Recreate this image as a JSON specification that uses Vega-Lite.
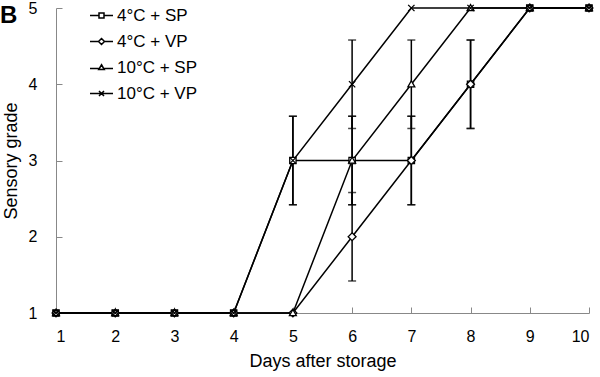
{
  "$schema": "https://vega.github.io/schema/vega-lite/v6.json",
  "width": 533,
  "height": 305,
  "autosize": "none",
  "padding": {"left": 56, "top": 8, "right": 11, "bottom": 64},
  "title": {"text": "B", "anchor": "start", "frame": "group", "fontSize": 24, "fontWeight": "bold", "font": "Liberation Sans", "color": "black", "dx": -56, "dy": 28, "baseline": "top", "offset": 0},
  "config": {
    "view": {"stroke": null},
    "font": "Liberation Sans",
    "axis": {"grid": false, "domainColor": "#888", "tickColor": "#888", "labelFont": "Liberation Sans", "titleFont": "Liberation Sans", "labelColor": "black", "titleColor": "black", "labelFontSize": 16, "titleFontSize": 18, "titleFontWeight": "normal"}
  },
  "data": {"values": [
    {"series": "4°C + SP", "day": 1, "grade": 1},
    {"series": "4°C + SP", "day": 2, "grade": 1},
    {"series": "4°C + SP", "day": 3, "grade": 1},
    {"series": "4°C + SP", "day": 4, "grade": 1},
    {"series": "4°C + SP", "day": 5, "grade": 3, "lo": 2.42, "hi": 3.58},
    {"series": "4°C + SP", "day": 6, "grade": 3, "lo": 2.42, "hi": 3.58},
    {"series": "4°C + SP", "day": 7, "grade": 3, "lo": 2.42, "hi": 3.58},
    {"series": "4°C + SP", "day": 8, "grade": 4, "lo": 3.42, "hi": 4.58},
    {"series": "4°C + SP", "day": 9, "grade": 5},
    {"series": "4°C + SP", "day": 10, "grade": 5},
    {"series": "4°C + VP", "day": 1, "grade": 1},
    {"series": "4°C + VP", "day": 2, "grade": 1},
    {"series": "4°C + VP", "day": 3, "grade": 1},
    {"series": "4°C + VP", "day": 4, "grade": 1},
    {"series": "4°C + VP", "day": 5, "grade": 1},
    {"series": "4°C + VP", "day": 6, "grade": 2, "lo": 1.42, "hi": 2.58},
    {"series": "4°C + VP", "day": 7, "grade": 3, "lo": 2.42, "hi": 3.58},
    {"series": "4°C + VP", "day": 8, "grade": 4, "lo": 3.42, "hi": 4.58},
    {"series": "4°C + VP", "day": 9, "grade": 5},
    {"series": "4°C + VP", "day": 10, "grade": 5},
    {"series": "10°C + SP", "day": 1, "grade": 1},
    {"series": "10°C + SP", "day": 2, "grade": 1},
    {"series": "10°C + SP", "day": 3, "grade": 1},
    {"series": "10°C + SP", "day": 4, "grade": 1},
    {"series": "10°C + SP", "day": 5, "grade": 1},
    {"series": "10°C + SP", "day": 6, "grade": 3, "lo": 2.42, "hi": 3.58},
    {"series": "10°C + SP", "day": 7, "grade": 4, "lo": 3.42, "hi": 4.58},
    {"series": "10°C + SP", "day": 8, "grade": 5},
    {"series": "10°C + SP", "day": 9, "grade": 5},
    {"series": "10°C + SP", "day": 10, "grade": 5},
    {"series": "10°C + VP", "day": 1, "grade": 1},
    {"series": "10°C + VP", "day": 2, "grade": 1},
    {"series": "10°C + VP", "day": 3, "grade": 1},
    {"series": "10°C + VP", "day": 4, "grade": 1},
    {"series": "10°C + VP", "day": 5, "grade": 3, "lo": 2.42, "hi": 3.58},
    {"series": "10°C + VP", "day": 6, "grade": 4, "lo": 3.42, "hi": 4.58},
    {"series": "10°C + VP", "day": 7, "grade": 5},
    {"series": "10°C + VP", "day": 8, "grade": 5},
    {"series": "10°C + VP", "day": 9, "grade": 5},
    {"series": "10°C + VP", "day": 10, "grade": 5}
  ]},
  "encoding": {
    "x": {"field": "day", "type": "quantitative", "scale": {"domain": [1, 10], "nice": false, "zero": false},
      "axis": {"title": "Days after storage", "values": [1,2,3,4,5,6,7,8,9,10], "tickSize": -6, "labelPadding": 21, "titlePadding": 8}},
    "y": {"field": "grade", "type": "quantitative", "scale": {"domain": [1, 5], "nice": false, "zero": false},
      "axis": {"title": "Sensory grade", "values": [1,2,3,4,5], "tickSize": -6, "labelPadding": 25, "titlePadding": 8}}
  },
  "resolve": {"scale": {"shape": "independent"}, "legend": {"shape": "independent"}},
  "layer": [
    {
      "transform": [{"filter": "datum.lo != null"}],
      "mark": {"type": "rule", "color": "black", "strokeWidth": 1.5},
      "encoding": {"y": {"field": "lo", "type": "quantitative"}, "y2": {"field": "hi"}}
    },
    {
      "transform": [{"filter": "datum.lo != null"}],
      "mark": {"type": "tick", "orient": "horizontal", "color": "black", "size": 8, "thickness": 1.5},
      "encoding": {"y": {"field": "lo", "type": "quantitative"}}
    },
    {
      "transform": [{"filter": "datum.lo != null"}],
      "mark": {"type": "tick", "orient": "horizontal", "color": "black", "size": 8, "thickness": 1.5},
      "encoding": {"y": {"field": "hi", "type": "quantitative"}}
    },
    {
      "mark": {"type": "line", "color": "black", "strokeWidth": 1.5},
      "encoding": {"detail": {"field": "series"}}
    },
    {
      "mark": {"type": "point", "filled": false, "fill": "white", "fillOpacity": 1, "stroke": "black", "strokeWidth": 1.3, "opacity": 1, "size": 40},
      "encoding": {
        "shape": {"field": "series", "type": "nominal",
          "scale": {"domain": ["4°C + SP", "4°C + VP", "10°C + SP", "10°C + VP"],
            "range": ["M-1,-1H1V1H-1Z", "M0,-1.25L1.25,0L0,1.25L-1.25,0Z", "M0,-1.1L1.1,0.85H-1.1Z", "M-1,-1L1,1M-1,1L1,-1"]},
          "legend": null
        }
      }
    },
    {
      "transform": [{"filter": "datum.day > 99"}],
      "mark": {"type": "point", "filled": false, "stroke": "black", "strokeWidth": 1.1, "opacity": 1},
      "encoding": {
        "shape": {"field": "series", "type": "nominal",
          "scale": {"domain": ["4°C + SP", "4°C + VP", "10°C + SP", "10°C + VP"],
            "range": ["M-4.6,0H-1M1,0H4.6M-1,-1H1V1H-1Z", "M-4.6,0H-1.2M1.2,0H4.6M0,-1.2L1.2,0L0,1.2L-1.2,0Z", "M-4.6,0.4H-0.8M0.8,0.4H4.6M0,-1.1L1.1,0.8H-1.1Z", "M-4.6,0H4.6M-1,-1L1,1M-1,1L1,-1"]},
          "legend": {
            "title": null, "orient": "none", "legendX": 37, "legendY": -1, "padding": 0,
            "symbolSize": 25, "labelOffset": 7, "labelFontSize": 17, "labelFont": "Liberation Sans", "labelColor": "black",
            "rowPadding": 8
          }
        }
      }
    }
  ]
}
